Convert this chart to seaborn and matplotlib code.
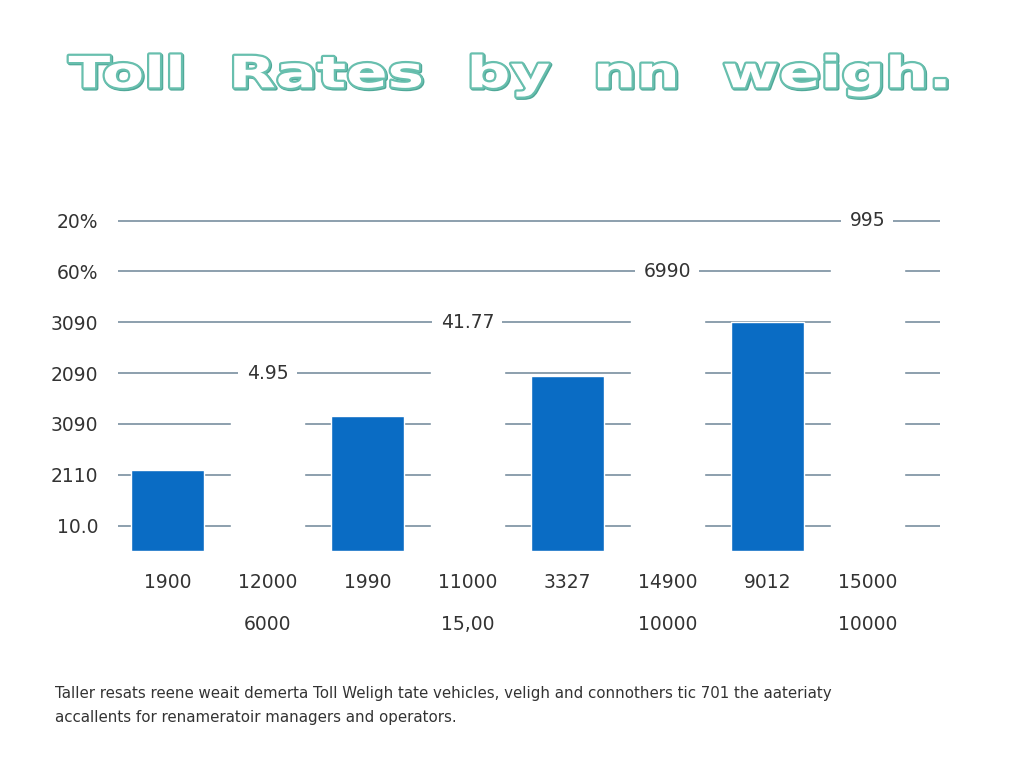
import matplotlib
matplotlib.use("Agg")
import matplotlib.pyplot as plt
import matplotlib.patheffects as pe
from matplotlib.transforms import Affine2D
import pandas as pd
import seaborn as sns

# categories (tick labels) and bar heights, in gridline units
categories = ["1900", "12000\n6000", "1990", "11000\n15,00",
              "3327", "14900\n10000", "9012", "15000\n10000"]
heights = [1.6, 3.4, 2.65, 4.4, 3.45, 5.4, 4.5, 6.4]
is_bar = [True, False, True, False, True, False, True, False]
gap_labels = ["", "4.95", "", "41.77", "", "6990", "", "995"]
gap_label_y = [0, 3.5, 0, 4.5, 0, 5.5, 0, 6.5]

grid_vals = [0.5, 1.5, 2.5, 3.5, 4.5, 5.5, 6.5]
grid_labels = ["10.0", "2110", "3090", "2090", "3090", "60%", "20%"]

title = "Toll  Rates  by  nn  weigh."
note = ("Taller resats reene weait demerta Toll Weligh tate vehicles, veligh and connothers tic 701 the aateriaty\n"
        "accallents for renameratoir managers and operators.")

BLUE = "#0a6cc4"
TEAL = "#68bfae"
TEAL_DARK = "#4fa898"
GRID = "#8c9fad"
TEXT = "#333333"


class Stretch(pe.AbstractPathEffect):
    """Widen the drawn text horizontally around a fixed x (display px)."""

    def __init__(self, sx, cx, inner):
        super().__init__()
        self.sx, self.cx, self.inner = sx, cx, inner

    def draw_path(self, renderer, gc, tpath, affine, rgbFace=None):
        t = affine + Affine2D().translate(-self.cx, 0).scale(self.sx, 1).translate(self.cx, 0)
        self.inner.draw_path(renderer, gc, tpath, t, rgbFace)


sns.set_theme(style="white")
plt.rcParams["font.family"] = ["DejaVu Sans"]

df = pd.DataFrame({"cat": categories, "h": heights,
                   "kind": ["bar" if b else "gap" for b in is_bar]})

fig = plt.figure(figsize=(10.24, 7.68), dpi=100)
ax = fig.add_axes([0.1152, 0.2826, 0.8027, 0.4766])

sns.barplot(data=df, x="cat", y="h", hue="kind",
            palette={"bar": BLUE, "gap": "white"},
            width=0.73, legend=False, ax=ax, saturation=1)

ax.set_axisbelow(True)
ax.set_yticks(grid_vals)
ax.set_yticklabels(grid_labels)
ax.yaxis.grid(True, color=GRID, linewidth=1.4)
ax.xaxis.grid(False)
ax.set_ylim(0, 7.2)
ax.set_xlim(-0.495, 7.725)
ax.set_xlabel("")
ax.set_ylabel("")
sns.despine(ax=ax, left=True, bottom=True)
ax.tick_params(axis="both", length=0, labelsize=13.5, colors=TEXT)
ax.tick_params(axis="y", pad=14)
ax.tick_params(axis="x", pad=16)
for lab in ax.get_xticklabels():
    lab.set_linespacing(2.55)
    lab.set_verticalalignment("top")

for i, txt in enumerate(gap_labels):
    if txt:
        ax.text(i, gap_label_y[i], txt, ha="center", va="center", fontsize=13.5,
                color=TEXT, zorder=5,
                bbox=dict(facecolor="white", edgecolor="none", pad=6))

effects = [
    Stretch(1.42, 510, pe.Stroke(linewidth=3.2, foreground=TEAL_DARK, offset=(0.8, -0.8))),
    Stretch(1.42, 510, pe.Stroke(linewidth=3.2, foreground=TEAL)),
    Stretch(1.42, 510, pe.Normal()),
]
fig.text(0.498, 0.902, title, ha="center", va="center", fontsize=31,
         fontweight="bold", color="white", path_effects=effects)

fig.text(0.054, 0.082, note, ha="left", va="center", fontsize=10.85,
         color=TEXT, linespacing=1.75)

fig.savefig("out.png", dpi=100, facecolor="white")
